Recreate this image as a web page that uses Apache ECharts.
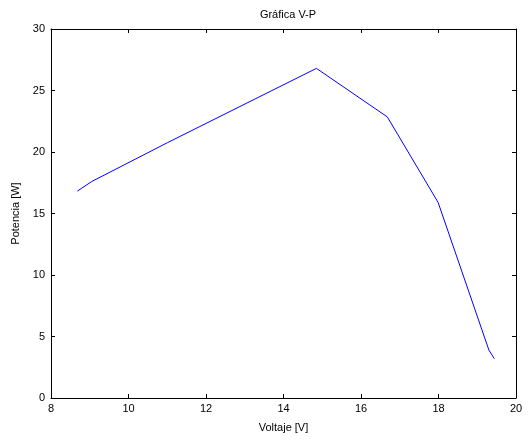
<!DOCTYPE html>
<html>
<head>
<meta charset="utf-8">
<script src="https://cdn.jsdelivr.net/npm/echarts@6/dist/echarts.min.js"></script>
<style>html,body{margin:0;padding:0;background:#fff}#c{width:529px;height:440px}</style>
</head>
<body>
<div id="c"></div>
<script>
var voltage = [8.68, 9.05, 11.0, 14.85, 16.68, 17.99, 19.3, 19.44];
var power = [16.82, 17.6, 20.75, 26.8, 22.85, 15.9, 3.9, 3.2];
var xTicks = [8, 10, 12, 14, 16, 18, 20];
var yTicks = [0, 5, 10, 15, 20, 25, 30];

var font = 'Liberation Sans, Arial, sans-serif';
var chart = echarts.init(document.getElementById('c'), null, {renderer: 'canvas'});
var pts = voltage.map(function (v, i) { return [v, power[i]]; });
var axisCommon = {
  axisLine: {show: true, onZero: false, lineStyle: {color: '#000', width: 1}},
  axisTick: {show: true, inside: true, length: 4, lineStyle: {color: '#000'}},
  splitLine: {show: false}
};
chart.setOption({
  animation: false,
  title: {
    text: 'Gráfica V-P', left: 283, top: 4, textAlign: 'center',
    textStyle: {fontFamily: font, fontSize: 11, fontWeight: 'normal', color: '#000'}
  },
  grid: {left: 51, right: 13, top: 29, bottom: 42, containLabel: false},
  xAxis: [
    Object.assign({
      type: 'value', min: xTicks[0], max: xTicks[xTicks.length - 1], interval: 2, position: 'bottom',
      name: 'Voltaje [V]', nameLocation: 'middle', nameGap: 24,
      nameTextStyle: {fontFamily: font, fontSize: 11, color: '#000'},
      axisLabel: {fontFamily: font, fontSize: 11, color: '#000', margin: 5}
    }, axisCommon),
    Object.assign({
      type: 'value', min: xTicks[0], max: xTicks[xTicks.length - 1], interval: 2, position: 'top',
      axisLabel: {show: false}
    }, axisCommon)
  ],
  yAxis: [
    Object.assign({
      type: 'value', min: yTicks[0], max: yTicks[yTicks.length - 1], interval: 5, position: 'left',
      name: 'Potencia [W]', nameLocation: 'middle', nameGap: 30, nameRotate: 90,
      nameTextStyle: {fontFamily: font, fontSize: 11, color: '#000'},
      axisLabel: {fontFamily: font, fontSize: 11, color: '#000', margin: 6}
    }, axisCommon),
    Object.assign({
      type: 'value', min: yTicks[0], max: yTicks[yTicks.length - 1], interval: 5, position: 'right',
      axisLabel: {show: false}
    }, axisCommon)
  ],
  series: [{
    type: 'line', data: pts, xAxisIndex: 0, yAxisIndex: 0,
    showSymbol: false, symbol: 'none',
    lineStyle: {color: '#0000ff', width: 1}
  }]
});
</script>
</body>
</html>
